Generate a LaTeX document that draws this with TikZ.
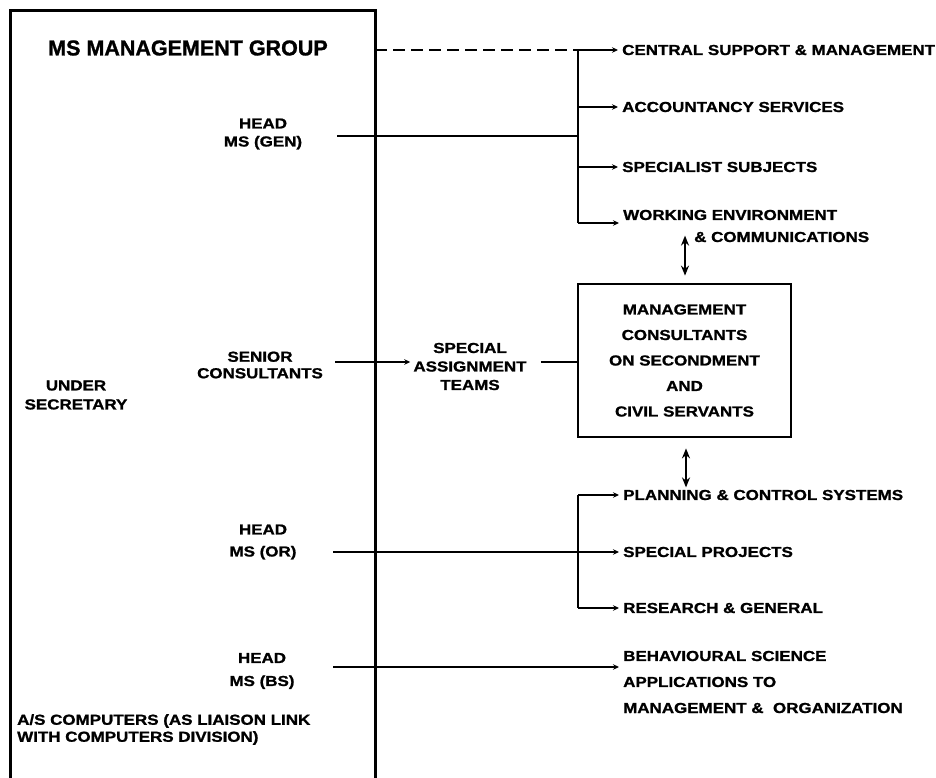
\documentclass[tikz,border=0pt]{standalone}
\usepackage{fontspec}
\setmainfont{Liberation Sans}[FakeStretch=1.17, BoldFeatures={FakeBold=1.2}]
\newfontfamily\titlefont{Liberation Sans}[BoldFeatures={FakeBold=1.2}]
\usetikzlibrary{arrows.meta}
\newcommand{\txtf}[1]{\bfseries\fontsize{14.5}{#1}\selectfont}
\begin{document}
\begin{tikzpicture}[x=1pt,y=-1pt,
  txt/.style={font=\txtf{17.5}, inner sep=0pt},
  lbl/.style={txt, anchor=west},
  ln/.style={line width=2.6pt},
  br/.style={ln, -{Stealth[length=6pt,width=5.5pt]}, shorten >=4pt},
  dbl/.style={line width=2.6pt, {Stealth[length=10pt,width=8pt]}-{Stealth[length=10pt,width=8pt]}},
]
\useasboundingbox (0,0) rectangle (936,778);
\fill[white] (0,0) rectangle (936,778);

% large open frame of the MS management group
\draw[line width=3pt] (10,778) -- (10,11) -- (375,11) -- (375,778);

% texts inside the frame
\node[font=\titlefont\bfseries\fontsize{21.5}{25}\selectfont, inner sep=0pt] (mgroup) at (188,48) {MS MANAGEMENT GROUP};
\node[txt, align=center, font=\txtf{18}] (headgen) at (263,134) {HEAD\\MS (GEN)};
\node[txt, align=center, font=\txtf{16.5}] (senior) at (260,365) {SENIOR\\CONSULTANTS};
\node[txt, align=center, font=\txtf{19}] (under) at (76,395) {UNDER\\SECRETARY};
\node[txt, align=center, font=\txtf{22}] (heador) at (263,542) {HEAD\\MS (OR)};
\node[txt, align=center, font=\txtf{23}] (headbs) at (262,671) {HEAD\\MS (BS)};
\node[txt, align=left, anchor=west, font=\txtf{17}] (ascomp) at (17,729.5) {A/S COMPUTERS (AS LIAISON LINK\\WITH COMPUTERS DIVISION)};

% upper group of units
\node[lbl] (central) at (622,50) {CENTRAL SUPPORT \& MANAGEMENT};
\node[lbl] (acc) at (622,107) {ACCOUNTANCY SERVICES};
\node[lbl] (spec) at (622,167) {SPECIALIST SUBJECTS};
\node[lbl] (work1) at (623,215) {WORKING ENVIRONMENT};
\node[lbl] (work2) at (694,237) {\& COMMUNICATIONS};

% central box
\node[draw, line width=2.8pt, minimum width=213pt, minimum height=153pt, align=center,
      inner sep=0pt, font=\txtf{25.5}] (mcbox) at (684.5,360.5)
      {MANAGEMENT\\CONSULTANTS\\ON SECONDMENT\\AND\\CIVIL SERVANTS};
\node[txt, align=center, font=\txtf{18.5}] (special) at (470,366.5) {SPECIAL\\ASSIGNMENT\\TEAMS};

% lower group of units
\node[lbl] (planning) at (623,495) {PLANNING \& CONTROL SYSTEMS};
\node[lbl] (specproj) at (623,552) {SPECIAL PROJECTS};
\node[lbl] (research) at (623,608) {RESEARCH \& GENERAL};
\node[txt, align=left, anchor=west, font=\txtf{26}] (behav) at (623,682)
      {BEHAVIOURAL SCIENCE\\APPLICATIONS TO\\MANAGEMENT \&\ \ ORGANIZATION};

% coordinates
\coordinate (fr) at (375,50);
\coordinate (u1) at (578,50);
\coordinate (u2) at (578,223);
\coordinate (hg) at (337,136);
\coordinate (sc) at (335,362);
\coordinate (l1) at (578,495);
\coordinate (l2) at (578,608);
\coordinate (ho) at (333,552);
\coordinate (hb) at (333,667);

% upper bracket
\draw[ln, dash pattern=on 12pt off 6pt] (fr) -- (u1);
\draw[ln] (u1) -- (u2);
\draw[br] (u1) -- (central.west);
\draw[br] (u1 |- acc.west) -- (acc.west);
\draw[br] (u1 |- spec.west) -- (spec.west);
\draw[br] (u2) -- (u2 -| work1.west);
\draw[ln] (hg) -- (hg -| u1);

% senior consultants and special assignment teams
\draw[br, shorten >=3pt] (sc) -- (sc -| special.west);
\draw[ln] ([xshift=14pt]special.east |- sc) -- (mcbox.west |- sc);

% double arrows
\draw[dbl] ([xshift=0.5pt,yshift=7pt]mcbox.north) -- ([xshift=0.5pt,yshift=47pt]mcbox.north);
\draw[dbl] ([xshift=1.5pt,yshift=-10pt]mcbox.south) -- ([xshift=1.5pt,yshift=-49pt]mcbox.south);

% lower bracket
\draw[ln] (l1) -- (l2);
\draw[br] (l1) -- (planning.west);
\draw[br] (l1 |- specproj.west) -- (specproj.west);
\draw[br] (l2) -- (research.west);
\draw[ln] (ho) -- (ho -| l1);

% behavioural science
\draw[br] (hb) -- (hb -| behav.west);
\end{tikzpicture}
\end{document}
